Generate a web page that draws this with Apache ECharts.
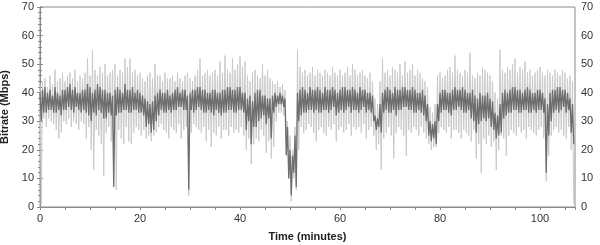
<!DOCTYPE html>
<html>
<head>
<meta charset="utf-8">
<script src="https://cdn.jsdelivr.net/npm/echarts@6/dist/echarts.min.js"></script>
<style>
  html, body { margin: 0; padding: 0; background: #fff; }
  #main { width: 600px; height: 245px; }
</style>
</head>
<body>
<div id="main"></div>
<script>
// half-minute dark band (upper / lower), t = 0, 0.5, ... 106.5
var coreHi = [40,41,42,40,41,39,42,40,39,41, 41,42,43,41,42,40,40,41,41,43,
              42,40,41,43,42,41,41,40,40,39, 41,42,41,40,43,41,41,42,40,41,
              40,39,38,37,36,37,39,40,41,40, 40,41,39,40,41,42,40,41,41,39,
              40,41,41,42,42,41,41,40,40,41, 41,40,40,41,41,42,42,41,41,42,
              42,40,40,38,39,37,40,41,41,39, 39,38,38,39,40,39,40,39,38,28,
              20,18,25,40,41,42,41,40,42,41, 41,42,41,40,42,41,41,42,41,40,
              41,42,42,41,41,42,41,40,42,41, 41,40,40,39,32,31,36,40,41,42,
              41,40,42,41,41,42,42,41,41,42, 41,40,40,41,39,36,30,29,30,36,
              40,41,41,40,40,41,42,41,41,42, 41,40,40,41,39,38,40,39,39,40,
              38,37,33,32,36,40,41,40,41,42, 42,41,41,40,41,42,41,40,40,41,
              41,40,38,36,40,41,41,42,42,41, 41,40,38,36];
var coreLo = [30,33,33,34,34,33,33,34,32,34, 34,35,34,33,35,34,33,34,33,32,
              30,33,32,34,33,31,31,33,32, 7, 32,33,33,34,34,33,33,34,34,33,
              33,32,28,29,26,27,30,32,34,33, 33,34,33,34,34,35,35,34,34, 6,
              34,33,34,35,34,33,33,34,33,32, 34,33,32,33,33,34,34,33,33,34,
              34,33,27,30,22,28,28,30,31,32, 29,31,24,33,35,36,36,35,18,10,
               4,12, 7,30,32,33,33,34,34,33, 34,33,33,34,34,33,34,35,32,33,
              34,33,34,35,33,34,34,33,34,35, 33,34,33,30,27,28,26,33,34,33,
              33,34,32,34,34,35,35,34,34,33, 33,34,33,32,30,25,23,24,22,30,
              33,34,34,33,32,34,34,35,34,33, 33,34,31,30,26,29,30,31,30,31,
              28,27,24,25,26,31,32,33,33,34, 34,33,33,34,34,33,33,34,33,34,
              34,33,12,25,30,33,34,33,34,35, 33,34,26,22];

// half-minute spike envelope (upper / lower), t = 0, 0.5, ... 106.5
var spikeHi = [43,44,45,42,46,43,48,44,45,47, 44,46,47,45,48,44,46,45,47,52,
               46,55,48,46,49,47,50,46,47,48, 50,46,48,47,52,49,52,47,48,46,
               47,45,44,46,47,45,50,46,46,44, 47,45,45,46,44,47,45,44,46,47,
               45,44,46,48,52,46,47,48,46,47, 48,46,51,47,53,48,47,52,48,50,
               53,49,51,46,44,47,48,46,45,50, 46,48,45,44,43,44,42,43,41,30,
               25,20,28,55,49,47,48,46,47,49, 46,48,47,46,48,47,46,49,47,46,
               48,46,47,49,46,50,48,46,47,48, 46,45,47,44,38,36,44,52,47,48,
               46,49,48,47,50,46,51,47,48,50, 46,48,47,45,44,42,35,33,36,46,
               47,45,46,48,49,47,53,48,47,46, 48,47,54,46,45,47,46,49,48,47,
               46,44,40,38,55,48,47,49,48,50, 52,47,49,48,51,47,48,46,47,48,
               49,47,46,48,47,46,48,47,46,48, 47,45,46,44];
var spikeLo = [ 1,31,28,31,30,29,27,24,26,30, 29,31,28,30,29,27,30,29,24,28,
               20,13,27,25,22,11,26,28,23,25,  6,27,24,22,28,23,22,26,28,27,
               25,27,24,25,23,25,26,28,29,27, 26,24,28,27,26,29,24,27,28, 4,
               26,29,28,27,26,28,23,27,21,26, 25,28,24,27,27,25,28,26,27,26,
               28,25,20,24,15,22,24,23,27,25, 19,23,17,21,30,33,33,32,26,10,
                2,10, 6,20,28,26,27,29,28,26, 23,27,28,26,25,28,27,29,23,27,
               28,26,27,29,25,28,27,28,26,29, 24,27,28,25,20,22,13,24,26,28,
               25,17,26,28,27,25,18,27,26,28, 27,25,28,26,24,22,20,21,21,26,
               28,27,26,28,24,27,27,26,24,27, 26,25,23,27,17,22,12,24,22,25,
               21,23,13,20,25,24,18,25,27,26, 25,28,26,27,24,28,27,26,25,27,
               28,24, 9,18,25,27,28,26,27,25, 24,28,20, 1];

var yTicks = [0, 10, 20, 30, 40, 50, 60, 70];
var xTicks = [0, 20, 40, 60, 80, 100];

// each half-minute bin is drawn as its max then its min
function zigzag(hi, lo) {
    var out = [];
    for (var i = 0; i < hi.length; i++) {
        out.push([i * 0.5, hi[i]]);
        out.push([i * 0.5 + 0.25, lo[i]]);
    }
    return out;
}

var myChart = echarts.init(document.getElementById('main'));
var font = 'Liberation Sans, Arial, sans-serif';
var axisCol = '#8a8a8a';

function yAxis(pos) {
    return {
        type: 'value', position: pos, min: yTicks[0], max: yTicks[yTicks.length - 1], interval: 10,
        name: pos === 'left' ? 'Bitrate (Mbps)' : '',
        nameLocation: 'middle', nameGap: 27,
        nameTextStyle: { fontFamily: font, fontSize: 11, fontWeight: 'bold', color: '#222' },
        axisLine: { show: true, lineStyle: { color: axisCol } },
        axisTick: { show: true, length: 3, lineStyle: { color: axisCol } },
        minorTick: { show: true, splitNumber: 5, length: 2, lineStyle: { color: axisCol } },
        axisLabel: { fontFamily: font, fontSize: 11, color: '#333', margin: 6 },
        splitLine: { show: false }
    };
}

var option = {
    animation: false,
    grid: { left: 40, right: 25, top: 7, bottom: 38, outerBoundsMode: 'none', containLabel: false,
            show: true, borderColor: axisCol, borderWidth: 1 },
    xAxis: [{
        type: 'value', min: 0, max: 107, interval: 20,
        name: 'Time (minutes)', nameLocation: 'middle', nameGap: 24,
        nameTextStyle: { fontFamily: font, fontSize: 11, fontWeight: 'bold', color: '#222' },
        axisLine: { show: true, lineStyle: { color: axisCol } },
        axisTick: { show: true, length: 3, lineStyle: { color: axisCol } },
        minorTick: { show: true, splitNumber: 4, length: 3, lineStyle: { color: axisCol } },
        axisLabel: { fontFamily: font, fontSize: 11, color: '#333', margin: 6, showMaxLabel: false,
            formatter: function (v) { return xTicks.indexOf(v) >= 0 ? String(v) : ''; } },
        splitLine: { show: false }
    }, {
        type: 'value', position: 'top', min: 0, max: 107, interval: 20,
        axisLine: { show: true, lineStyle: { color: axisCol } },
        axisTick: { show: true, inside: true, length: 3, lineStyle: { color: axisCol } },
        minorTick: { show: true, splitNumber: 4, length: 3, lineStyle: { color: axisCol } },
        axisLabel: { show: false },
        splitLine: { show: false }
    }],
    yAxis: [yAxis('left'), yAxis('right')],
    series: [
        {
            type: 'line', data: zigzag(spikeHi, spikeLo), showSymbol: false, symbol: 'none',
            lineStyle: { color: '#c9c9c9', width: 1 }, z: 1
        },
        {
            type: 'line', data: zigzag(coreHi, coreLo), showSymbol: false, symbol: 'none',
            lineStyle: { color: '#6e6e6e', width: 1.3 }, z: 2
        }
    ]
};
myChart.setOption(option);
window.onresize = myChart.resize;
</script>
</body>
</html>
